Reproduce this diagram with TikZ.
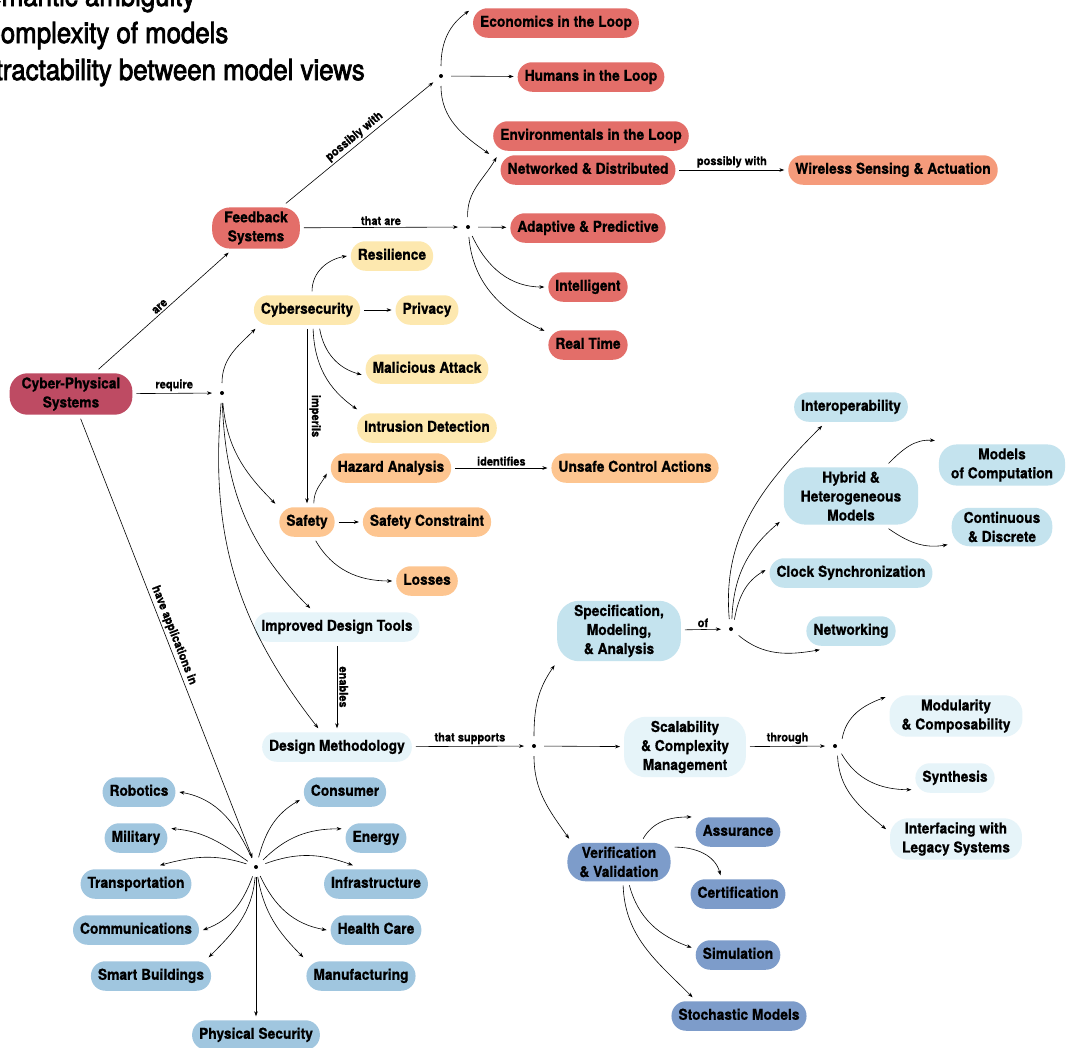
\documentclass[tikz,border=0pt]{standalone}
\usepackage{fontspec}
\usepackage{xcolor}
\usepackage{tikz}
\usetikzlibrary{positioning,arrows.meta}
\newfontfamily\mapfont[FakeStretch=0.92, BoldFeatures={FakeBold=0.6}]{TeX Gyre Heros}
\newfontfamily\introfont[FakeStretch=0.89, FakeBold=2.5]{TeX Gyre Heros}
\definecolor{cpsred}{HTML}{BE4B63}
\definecolor{loopred}{HTML}{E36E69}
\definecolor{wirelessor}{HTML}{F59B7B}
\definecolor{cyberyel}{HTML}{FDE8AF}
\definecolor{safetyor}{HTML}{FDC590}
\definecolor{palecyan}{HTML}{E6F4F9}
\definecolor{skyblue}{HTML}{C4E3EE}
\definecolor{appblue}{HTML}{A0C6DF}
\definecolor{vvblue}{HTML}{7D9CCA}
\tikzset{
	box/.style={rectangle, fill=#1, align=center, outer sep=4pt, font=\mapfont\bfseries\fontsize{15}{19}\selectfont},
	oneline/.style={box=#1, rounded corners=14.5pt, inner xsep=7pt, inner ysep=0pt, text height=11pt, text depth=3.5pt, minimum height=29.5pt},
	twoline/.style={box=#1, rounded corners=18pt, inner xsep=12pt, inner ysep=4pt},
	threeline/.style={box=#1, rounded corners=22pt, inner xsep=17pt, inner ysep=4pt},
	hub/.style={circle, fill=black, inner sep=0pt, minimum size=4pt, outer sep=8pt},
	link/.style={draw=black, line width=0.6pt, -{Stealth[length=5pt,width=3.6pt]}},
	linklabel/.style={font=\mapfont\bfseries\fontsize{12}{14}\selectfont, inner sep=2pt},
	introtext/.style={anchor=base west, inner sep=0pt, font=\introfont\fontsize{29}{35}\selectfont}
}
\begin{document}
\begin{tikzpicture}[x=1pt, y=-1pt]
	\useasboundingbox[fill=white] (0,0) rectangle (1083,1047);

	\node[introtext] (ambig) at (-30,6) {Semantic ambiguity};
	\node[introtext] (complex) at (-18,43) {Complexity of models};
	\node[introtext] (intract) at (-26,80) {Intractability between model views};

	% feedback systems
	\node[twoline=cpsred] (cps) at (71,394) {Cyber-Physical\\Systems};
	\node[twoline=loopred] (fb) at (256,228) {Feedback\\Systems};
	\node[hub] (loopdot) at (441,76) {};
	\node[hub] (aredot) at (468,227) {};
	\node[oneline=loopred] (econ) at (556,23) {Economics in the Loop};
	\node[oneline=loopred] (humans) at (591,77) {Humans in the Loop};
	\node[oneline=loopred] (env) at (591,136) {Environmentals in the Loop};
	\node[oneline=loopred] (net) at (588,170) {Networked \& Distributed};
	\node[oneline=wirelessor] (wireless) at (893,170) {Wireless Sensing \& Actuation};
	\node[oneline=loopred] (adapt) at (588,228) {Adaptive \& Predictive};
	\node[oneline=loopred] (intel) at (588,287) {Intelligent};
	\node[oneline=loopred] (realtime) at (588,345) {Real Time};

	% requirements
	\node[hub] (reqdot) at (222,393) {};
	\node[oneline=cyberyel] (cyber) at (307,310) {Cybersecurity};
	\node[oneline=cyberyel] (resil) at (392,256) {Resilience};
	\node[oneline=cyberyel] (privacy) at (427,310) {Privacy};
	\node[oneline=cyberyel] (malicious) at (427,369) {Malicious Attack};
	\node[oneline=cyberyel] (intrusion) at (427,428) {Intrusion Detection};
	\node[oneline=safetyor] (hazard) at (391,468) {Hazard Analysis};
	\node[oneline=safetyor] (unsafe) at (635,468) {Unsafe Control Actions};
	\node[oneline=safetyor] (safety) at (307,522) {Safety};
	\node[oneline=safetyor] (safetyc) at (427,522) {Safety Constraint};
	\node[oneline=safetyor] (losses) at (427,581) {Losses};
	\node[oneline=palecyan] (tools) at (337,627) {Improved Design Tools};
	\node[oneline=palecyan] (method) at (337,747) {Design Methodology};

	% design methodology
	\node[hub] (supdot) at (534,746) {};
	\node[threeline=skyblue] (spec) at (619,631) {Specification,\\Modeling,\\\& Analysis};
	\node[hub] (ofdot) at (731,629) {};
	\node[oneline=skyblue] (interop) at (851,407) {Interoperability};
	\node[threeline=skyblue] (hybrid) at (851,496) {Hybrid \&\\Heterogeneous\\Models};
	\node[twoline=skyblue] (moc) at (1002,465) {Models\\of Computation};
	\node[twoline=skyblue] (cont) at (1002,527) {Continuous\\\& Discrete};
	\node[oneline=skyblue] (clock) at (851,573) {Clock Synchronization};
	\node[oneline=skyblue] (networking) at (851,631) {Networking};
	\node[threeline=palecyan] (scal) at (685,747) {Scalability\\\& Complexity\\Management};
	\node[hub] (thrudot) at (835,746) {};
	\node[twoline=palecyan] (modul) at (956,716) {Modularity\\\& Composability};
	\node[oneline=palecyan] (synth) at (955,778) {Synthesis};
	\node[twoline=palecyan] (legacy) at (956,839) {Interfacing with\\Legacy Systems};
	\node[twoline=vvblue] (vv) at (619,862) {Verification\\\& Validation};
	\node[oneline=vvblue] (assur) at (738,832) {Assurance};
	\node[oneline=vvblue] (cert) at (738,894) {Certification};
	\node[oneline=vvblue] (sim) at (738,955) {Simulation};
	\node[oneline=vvblue] (stoch) at (739,1016) {Stochastic Models};

	% applications
	\node[hub] (appdot) at (256,867) {};
	\node[oneline=appblue] (robotics) at (139,792) {Robotics};
	\node[oneline=appblue] (military) at (136,838) {Military};
	\node[oneline=appblue] (transport) at (136,884) {Transportation};
	\node[oneline=appblue] (comm) at (136,930) {Communications};
	\node[oneline=appblue] (smart) at (151,976) {Smart Buildings};
	\node[oneline=appblue] (physsec) at (256,1035) {Physical Security};
	\node[oneline=appblue] (consumer) at (345,792) {Consumer};
	\node[oneline=appblue] (energy) at (376,838) {Energy};
	\node[oneline=appblue] (infra) at (376,884) {Infrastructure};
	\node[oneline=appblue] (health) at (376,930) {Health Care};
	\node[oneline=appblue] (manuf) at (361,976) {Manufacturing};

	\draw[link] (cps) -- node[linklabel, above, sloped] {are} (fb);
	\draw[link] (cps) -- node[linklabel, above] {require} (reqdot);
	\draw[link] (cps) -- node[linklabel, above, sloped] {have applications in} (appdot);

	\draw[link] (fb) -- node[linklabel, above, sloped] {possibly with} (loopdot);
	\draw[link] (fb) -- node[linklabel, above] {that are} (aredot);
	\draw[link] (loopdot) to[out=90, in=215] (econ.172);
	\draw[link] (loopdot) -- (humans);
	\draw[link] (loopdot) to[out=-90, in=145] (env.190);
	\draw[link] (aredot) to[out=92, in=240] (net.172);
	\draw[link] (aredot) -- (adapt);
	\draw[link] (aredot) to[out=-65, in=180] (intel);
	\draw[link] (aredot) to[out=-85, in=155] (realtime.162);
	\draw[link] (net) -- node[linklabel, above] {possibly with} (wireless);

	\draw[link] (reqdot) to[out=90, in=225] (cyber.200);
	\draw[link] (reqdot) to[out=-85, in=135] (safety.150);
	\draw[link] (reqdot) to[out=-88, in=135] (tools.145);
	\draw[link] (reqdot) to[out=-95, in=128] (method.135);
	\draw[link] (cyber.75) to[out=90, in=190] (resil.180);
	\draw[link] (cyber) -- (privacy);
	\draw[link] (cyber.-56) to[out=-80, in=165] (malicious.185);
	\draw[link] (cyber.-72) to[out=-88, in=145] (intrusion.165);
	\draw[link] (cyber) -- node[linklabel, anchor=south, rotate=-90] {imperils} (safety);
	\draw[link] (safety.70) to[out=90, in=240] (hazard.185);
	\draw[link] (safety) -- (safetyc);
	\draw[link] (safety.-65) to[out=-60, in=180] (losses);
	\draw[link] (hazard) -- node[linklabel, above] {identifies} (unsafe);
	\draw[link] (tools) -- node[linklabel, anchor=south, rotate=-90] {enables} (method);
	\draw[link] (method) -- node[linklabel, above] {that supports} (supdot);

	\draw[link] (supdot) to[out=90, in=235] (spec.208);
	\draw[link] (supdot) -- (scal);
	\draw[link] (supdot) to[out=-90, in=125] (vv.155);
	\draw[link] (spec) -- node[linklabel, above] {of} (ofdot);
	\draw[link] (ofdot.100) to[out=95, in=225] (interop.213);
	\draw[link] (ofdot.85) to[out=88, in=220] (hybrid.200);
	\draw[link] (ofdot.70) to[out=80, in=210] (clock.178);
	\draw[link] (ofdot) to[out=-40, in=190] (networking.211);
	\draw[link] (hybrid.41) to[out=45, in=175] (moc.160);
	\draw[link] (hybrid.-41) to[out=-35, in=190] (cont.198);
	\draw[link] (scal) -- node[linklabel, above] {through} (thrudot);
	\draw[link] (thrudot.45) to[out=80, in=200] (modul.165);
	\draw[link] (thrudot.-50) to[out=-60, in=180] (synth.195);
	\draw[link] (thrudot.-75) to[out=-88, in=140] (legacy.172);
	\draw[link] (vv.44) to[out=60, in=180] (assur.162);
	\draw[link] (vv.15) to[out=0, in=105] (cert.133);
	\draw[link] (vv.-66) to[out=-75, in=160] (sim.171);
	\draw[link] (vv.-80) to[out=-88, in=135] (stoch.158);

	\draw[link] (appdot) to[out=115, in=-10] (robotics.east);
	\draw[link] (appdot) to[out=145, in=-5] (military.15);
	\draw[link] (appdot) to[out=162, in=15] (transport.38);
	\draw[link] (appdot) to[out=-110, in=20] (comm.east);
	\draw[link] (appdot) to[out=-95, in=45] (smart.18);
	\draw[link] (appdot) -- (physsec);
	\draw[link] (appdot) to[out=75, in=210] (consumer.190);
	\draw[link] (appdot) to[out=45, in=180] (energy.165);
	\draw[link] (appdot) to[out=20, in=160] (infra.141);
	\draw[link] (appdot) to[out=-65, in=170] (health.west);
	\draw[link] (appdot) to[out=-80, in=135] (manuf.162);
\end{tikzpicture}
\end{document}
